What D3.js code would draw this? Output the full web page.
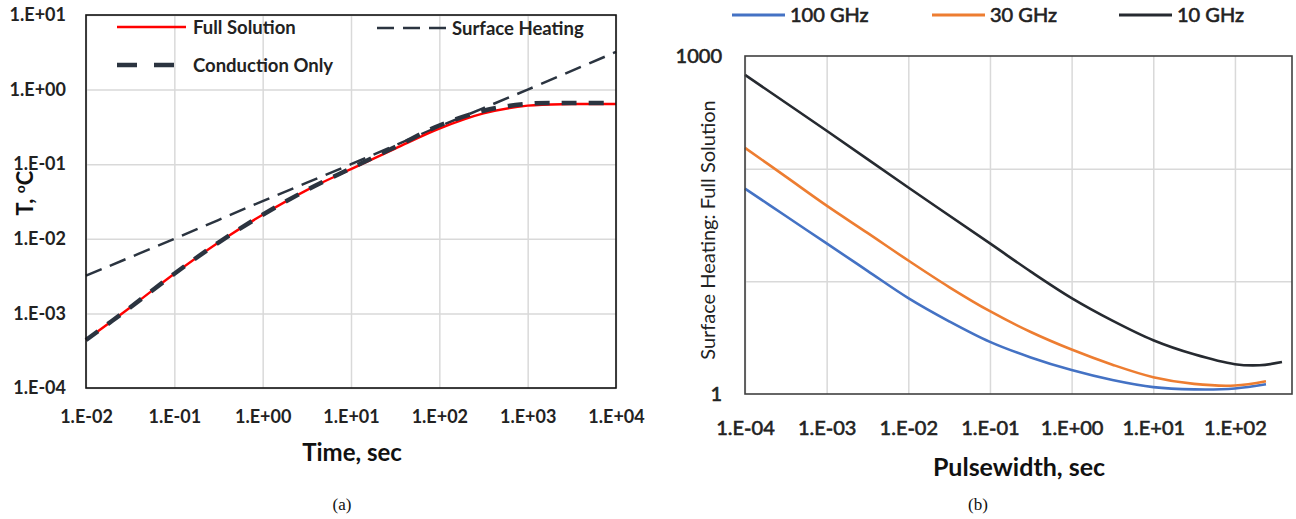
<!DOCTYPE html>
<html>
<head>
<meta charset="utf-8">
<script src="https://cdn.jsdelivr.net/npm/d3@7"></script>
<style>
  body { margin: 0; background: #fff; }
  svg { display: block; font-family: Lato, "Open Sans", sans-serif; }
  .grid line { stroke: #d9d9d9; stroke-width: 1.5; }
  .grid path { display: none; }
</style>
</head>
<body>
<svg id="chart" width="1296" height="519"></svg>
<script>
// (a) temperature vs time
const timeA = [1e-2, 3.16e-2, 1e-1, 0.316, 1, 3.16, 10, 31.6, 100, 316, 1000, 3162, 10000];
const fullSolution = [4.4e-4, 1.2e-3, 3.4e-3, 8.9e-3, 0.021, 0.045, 0.086, 0.162, 0.30, 0.48, 0.61, 0.64, 0.64];
const conductionOnly = [4.4e-4, 1.2e-3, 3.4e-3, 8.9e-3, 0.021, 0.045, 0.088, 0.17, 0.33, 0.52, 0.645, 0.66, 0.66];
const surfaceTime = [1e-2, 1e-1, 1, 10, 100, 1000, 10000];
const surfaceHeating = [3.2e-3, 1e-2, 3.2e-2, 0.1, 0.32, 1.0, 3.2];
const xTicksA = [1e-2, 1e-1, 1, 10, 100, 1000, 10000];
const xLabelsA = ["1.E-02", "1.E-01", "1.E+00", "1.E+01", "1.E+02", "1.E+03", "1.E+04"];
const yTicksA = [1e-4, 1e-3, 1e-2, 1e-1, 1, 10];
const yLabelsA = ["1.E-04", "1.E-03", "1.E-02", "1.E-01", "1.E+00", "1.E+01"];

// (b) ratio vs pulsewidth
const pulseTime = [1e-4, 3.16e-4, 1e-3, 3.16e-3, 1e-2, 3.16e-2, 1e-1, 0.316, 1, 3.16, 10, 31.6, 100, 240];
const ghz100 = [66.5, 38, 21.7, 12.4, 7.1, 4.42, 2.9, 2.11, 1.63, 1.33, 1.15, 1.1, 1.12, 1.22];
const ghz30 = [153, 85, 47, 26.9, 15.3, 8.9, 5.43, 3.55, 2.48, 1.82, 1.41, 1.23, 1.19, 1.3];
const pulseTime10 = [1e-4, 1e-3, 1e-2, 1e-1, 0.316, 1, 3.16, 10, 31.6, 100, 200, 377];
const ghz10 = [680, 217, 68, 21.7, 12.2, 7.1, 4.48, 3.0, 2.25, 1.84, 1.8, 1.92];
const xTicksB = [1e-4, 1e-3, 1e-2, 1e-1, 1, 10, 100];
const xLabelsB = ["1.E-04", "1.E-03", "1.E-02", "1.E-01", "1.E+00", "1.E+01", "1.E+02"];
const yTicksB = [1, 1000];
const yLabelsB = ["1", "1000"];
const yGridB = [10, 100];

const svg = d3.select("#chart");
const dark = "#2b3440";

const zip = (xs, ys) => xs.map((t, i) => ({ t, v: ys[i] }));

// ---------- panel (a) ----------
const xA = d3.scaleLog().domain([1e-2, 1e4]).range([86, 616]);
const yA = d3.scaleLog().domain([1e-4, 10]).range([388, 15]);

svg.append("g").attr("class", "grid")
    .attr("transform", "translate(0,388)")
    .call(d3.axisBottom(xA).tickValues(xTicksA).tickSize(-373).tickFormat(""));
svg.append("g").attr("class", "grid")
    .attr("transform", "translate(86,0)")
    .call(d3.axisLeft(yA).tickValues(yTicksA).tickSize(-530).tickFormat(""));

const lineA = d3.line().x(d => xA(d.t)).y(d => yA(d.v)).curve(d3.curveCatmullRom.alpha(0.5));

svg.append("path").datum(zip(surfaceTime, surfaceHeating))
    .attr("d", lineA).attr("fill", "none")
    .attr("stroke", dark).attr("stroke-width", 2.5).attr("stroke-dasharray", "17,9");
svg.append("path").datum(zip(timeA, fullSolution))
    .attr("d", lineA).attr("fill", "none")
    .attr("stroke", "#ff0000").attr("stroke-width", 2.4);
svg.append("path").datum(zip(timeA, conductionOnly))
    .attr("d", lineA).attr("fill", "none")
    .attr("stroke", dark).attr("stroke-width", 4.5).attr("stroke-dasharray", "15,12");

svg.append("rect").attr("x", 86).attr("y", 15).attr("width", 530).attr("height", 373)
    .attr("fill", "none").attr("stroke", "#111").attr("stroke-width", 1.6);

const axXA = svg.append("g").attr("transform", "translate(0,388)")
    .call(d3.axisBottom(xA).tickValues(xTicksA).tickSize(0).tickPadding(22)
        .tickFormat((d, i) => xLabelsA[i]));
const axYA = svg.append("g").attr("transform", "translate(86,0)")
    .call(d3.axisLeft(yA).tickValues(yTicksA).tickSize(0).tickPadding(20)
        .tickFormat((d, i) => yLabelsA[i]));
[axXA, axYA].forEach(g => {
    g.select(".domain").remove();
    g.selectAll("text").attr("font-family", "Lato").attr("font-size", 18)
        .attr("font-weight", 700).attr("fill", "#222");
});

svg.append("text").attr("x", 352).attr("y", 461).attr("text-anchor", "middle")
    .attr("font-size", 24).attr("font-weight", 700).attr("fill", "#111").text("Time, sec");

const tLabel = svg.append("text").attr("transform", "translate(33,193) rotate(-90)")
    .attr("text-anchor", "middle").attr("font-size", 22).attr("font-weight", 700).attr("fill", "#111");
tLabel.append("tspan").text("T, ");
tLabel.append("tspan").attr("font-size", 14).attr("dy", -8).text("o");
tLabel.append("tspan").attr("dy", 8).text("C");

// legend (a)
const legA = [
    { label: "Full Solution", x: 117, y: 27, len: 69, tx: 193, color: "#ff0000", w: 2.4, dash: null },
    { label: "Surface Heating", x: 377, y: 28, len: 70, tx: 452, color: dark, w: 2.5, dash: "17,9" },
    { label: "Conduction Only", x: 117, y: 65, len: 58, tx: 193, color: dark, w: 4.5, dash: "20,17" }
];
legA.forEach(d => {
    svg.append("line").attr("x1", d.x).attr("x2", d.x + d.len).attr("y1", d.y).attr("y2", d.y)
        .attr("stroke", d.color).attr("stroke-width", d.w).attr("stroke-dasharray", d.dash);
    svg.append("text").attr("x", d.tx).attr("y", d.y + 6.5)
        .attr("font-size", 18.5).attr("font-weight", 700).attr("fill", "#222").text(d.label);
});

svg.append("text").attr("x", 342).attr("y", 510).attr("text-anchor", "middle")
    .attr("font-family", "Liberation Serif").attr("font-size", 17).attr("fill", "#111").text("(a)");

// ---------- panel (b) ----------
const xB = d3.scaleLog().domain([1e-4, 500]).range([745, 1292]);
const yB = d3.scaleLog().domain([1, 1000]).range([394, 56]);

svg.append("g").attr("class", "grid")
    .attr("transform", "translate(0,394)")
    .call(d3.axisBottom(xB).tickValues(xTicksB).tickSize(-338).tickFormat(""));
svg.append("g").attr("class", "grid")
    .attr("transform", "translate(745,0)")
    .call(d3.axisLeft(yB).tickValues(yGridB).tickSize(-547).tickFormat(""));

const lineB = d3.line().x(d => xB(d.t)).y(d => yB(d.v)).curve(d3.curveCatmullRom.alpha(0.5));
const seriesB = [
    { name: "100 GHz", t: pulseTime, v: ghz100, color: "#4472c4" },
    { name: "30 GHz", t: pulseTime, v: ghz30, color: "#ed7d31" },
    { name: "10 GHz", t: pulseTime10, v: ghz10, color: "#262a30" }
];
seriesB.forEach(s => {
    svg.append("path").datum(zip(s.t, s.v))
        .attr("d", lineB).attr("fill", "none")
        .attr("stroke", s.color).attr("stroke-width", 2.6);
});

svg.append("rect").attr("x", 745).attr("y", 56).attr("width", 547).attr("height", 338)
    .attr("fill", "none").attr("stroke", "#404040").attr("stroke-width", 1.6);

const axXB = svg.append("g").attr("transform", "translate(0,394)")
    .call(d3.axisBottom(xB).tickValues(xTicksB).tickSize(0).tickPadding(27)
        .tickFormat((d, i) => xLabelsB[i]));
const axYB = svg.append("g").attr("transform", "translate(745,0)")
    .call(d3.axisLeft(yB).tickValues(yTicksB).tickSize(0).tickPadding(23)
        .tickFormat((d, i) => yLabelsB[i]));
[axXB, axYB].forEach(g => {
    g.select(".domain").remove();
    g.selectAll("text").attr("font-family", "Lato").attr("font-size", 20)
        .attr("font-weight", 400).attr("fill", "#222")
        .attr("stroke", "#222").attr("stroke-width", 0.6);
});

svg.append("text").attr("x", 1019).attr("y", 476).attr("text-anchor", "middle")
    .attr("font-size", 25).attr("font-weight", 700).attr("fill", "#111").text("Pulsewidth, sec");

svg.append("text").attr("transform", "translate(708,230) rotate(-90)").attr("dy", "0.35em")
    .attr("text-anchor", "middle").attr("font-size", 20).attr("fill", "#222")
    .text("Surface Heating: Full Solution");

// legend (b)
const legBx = [732, 932, 1119];
seriesB.forEach((s, i) => {
    svg.append("line").attr("x1", legBx[i]).attr("x2", legBx[i] + 53).attr("y1", 15).attr("y2", 15)
        .attr("stroke", s.color).attr("stroke-width", 3);
    svg.append("text").attr("x", legBx[i] + 58).attr("y", 22)
        .attr("font-size", 20).attr("fill", "#222")
        .attr("stroke", "#222").attr("stroke-width", 0.6).text(s.name);
});

svg.append("text").attr("x", 978).attr("y", 510).attr("text-anchor", "middle")
    .attr("font-family", "Liberation Serif").attr("font-size", 17).attr("fill", "#111").text("(b)");
</script>
</body>
</html>
